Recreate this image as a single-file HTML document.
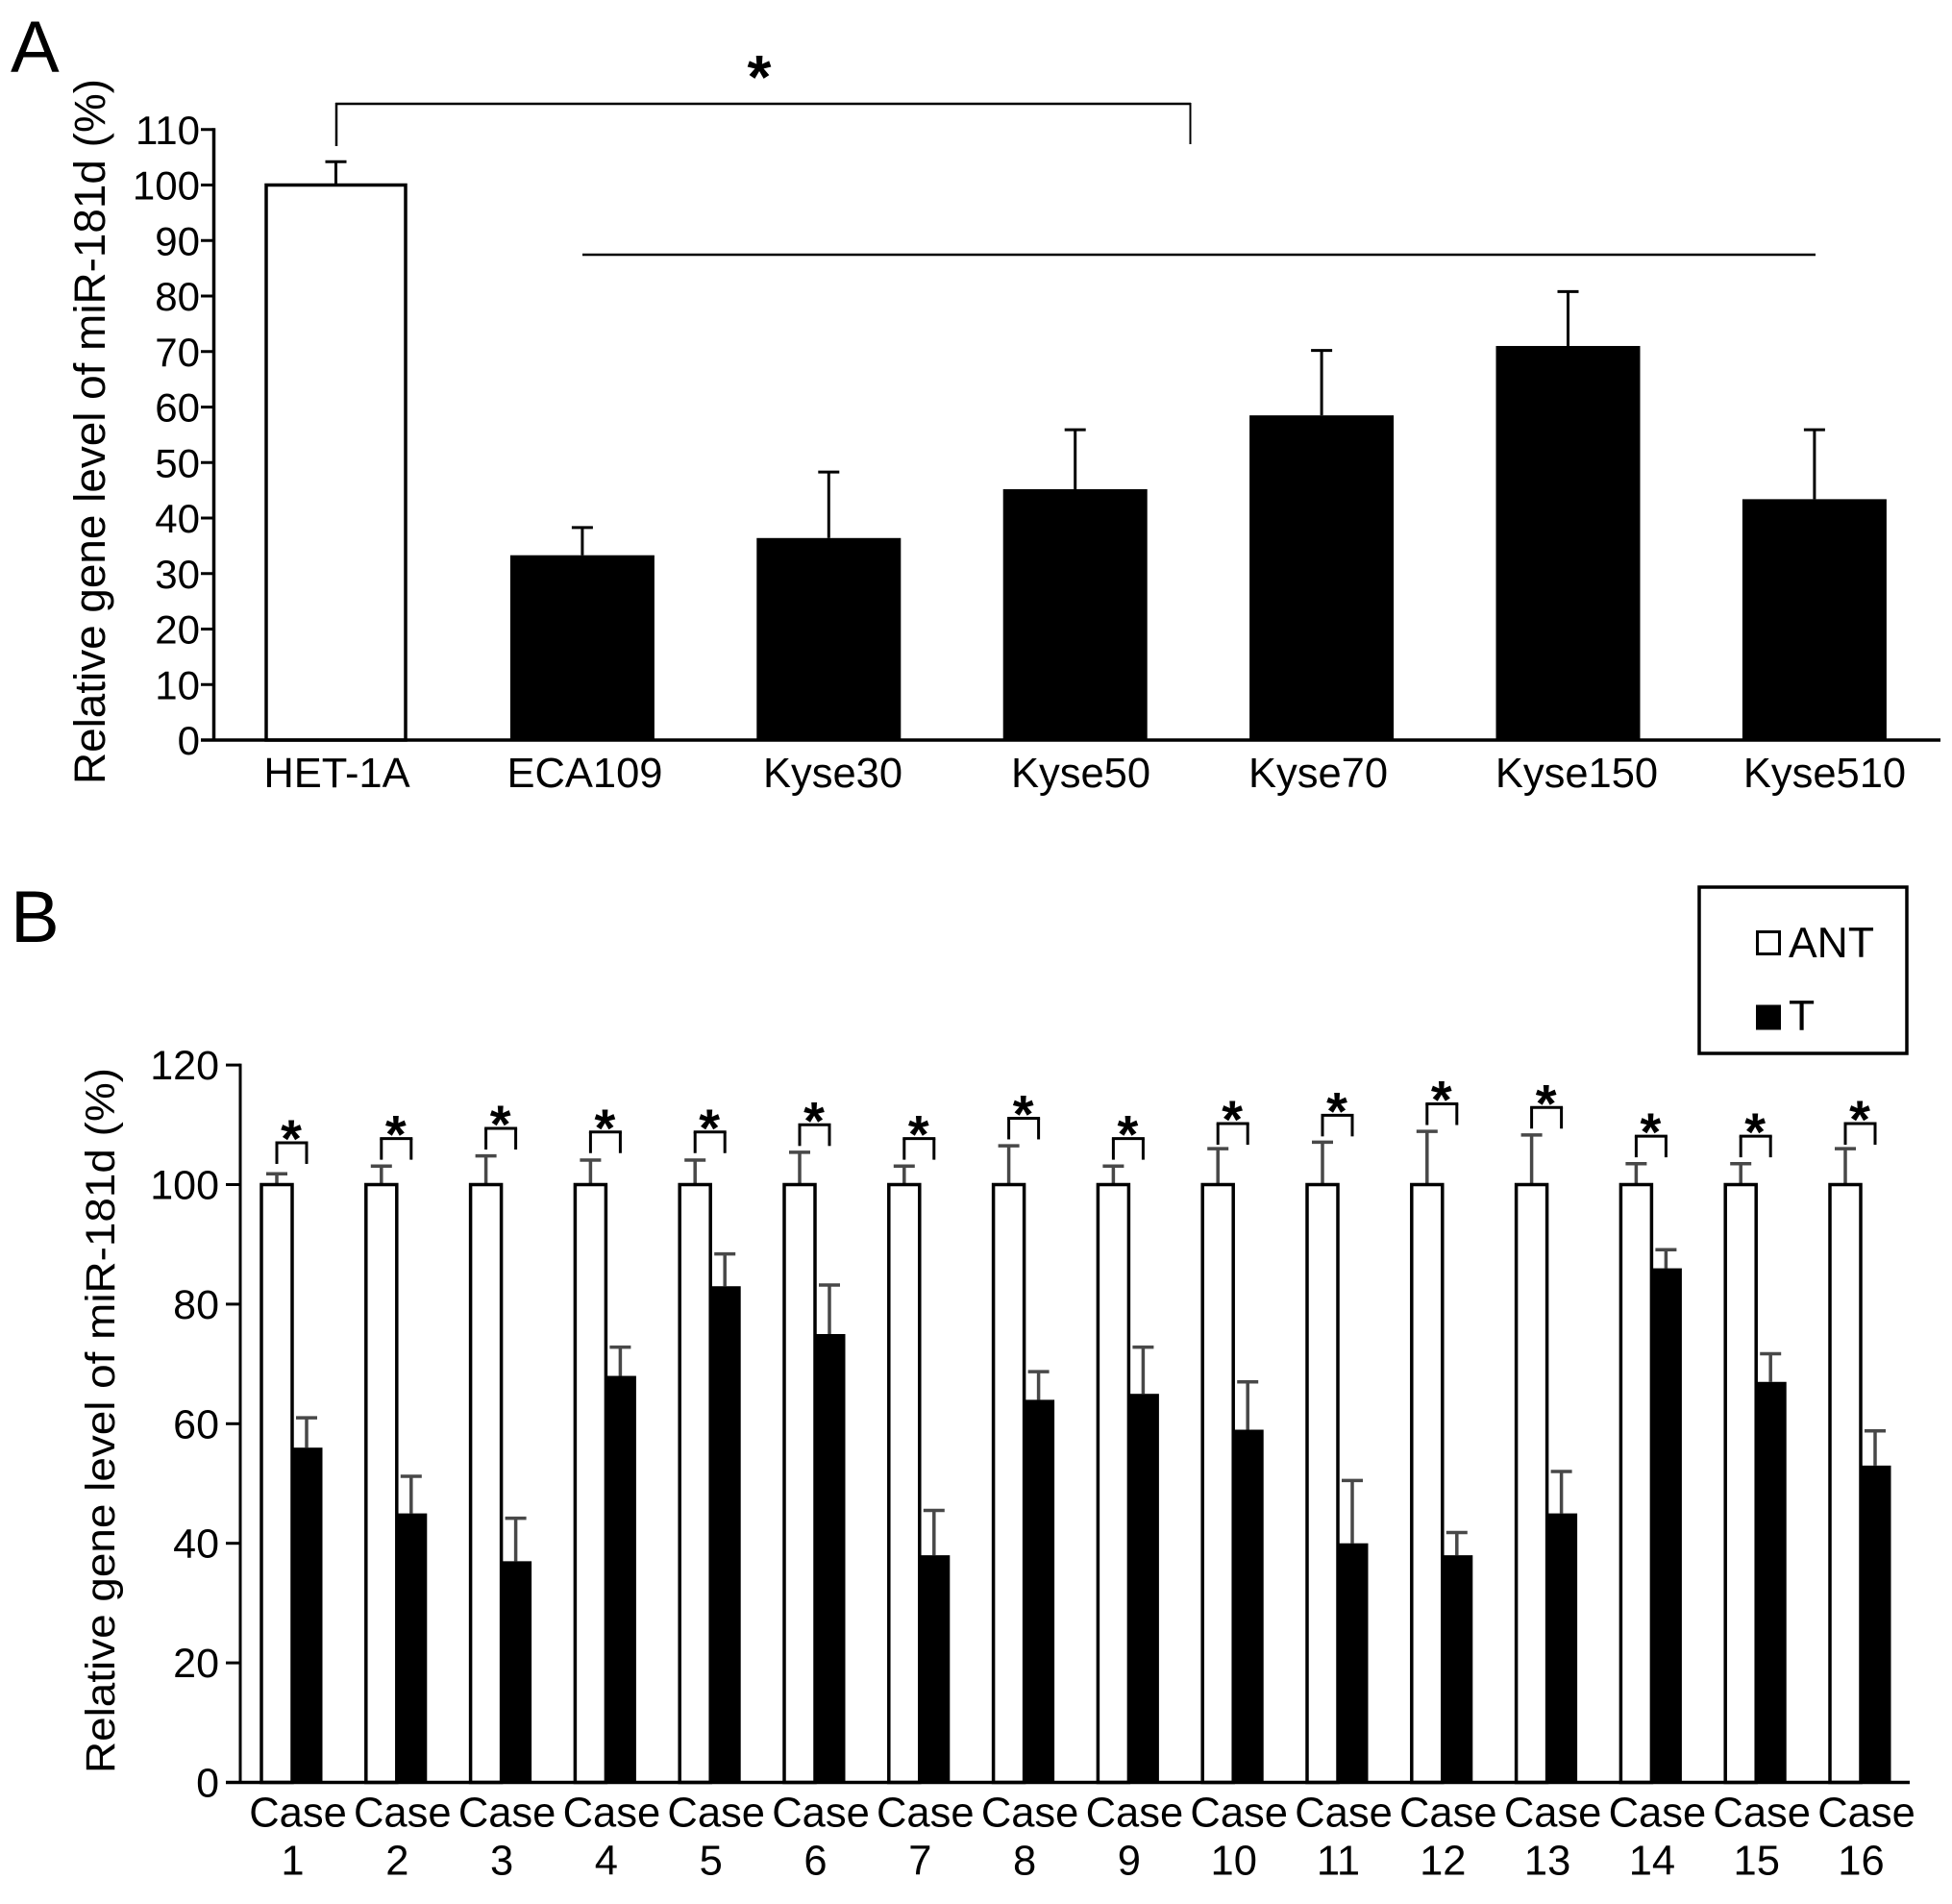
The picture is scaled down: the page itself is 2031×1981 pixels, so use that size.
<!DOCTYPE html>
<html lang="en">
<head>
<meta charset="utf-8">
<title>Relative gene level of miR-181d</title>
<style>
html,body{margin:0;padding:0;background:#fff;width:2031px;height:1981px;overflow:hidden}
svg{display:block}
text{font-family:"Liberation Sans",Arial,sans-serif;fill:#000}
</style>
</head>
<body>
<svg id="figure" xmlns="http://www.w3.org/2000/svg" width="2031" height="1981" viewBox="0 0 2031 1981">
  <rect x="0" y="0" width="2031" height="1981" fill="#fff"/>
  <text x="11" y="75" font-size="76">A</text>
  <text x="11" y="980" font-size="76">B</text>
  <g id="chart-a"></g>
  <g id="chart-b"></g>
  <g>
    <rect x="1768" y="923" width="216" height="173" fill="none" stroke="#000" stroke-width="3.5"/>
    <rect x="1828.5" y="969.5" width="23" height="23" fill="#fff" stroke="#000" stroke-width="3"/>
    <text x="1861" y="996" font-size="44.5">ANT</text>
    <rect x="1827" y="1045.5" width="26" height="26" fill="#000"/>
    <text x="1861" y="1072" font-size="44.5">T</text>
  </g>
</svg>
<script>
// Panel A data
var categoriesA = ['HET-1A', 'ECA109', 'Kyse30', 'Kyse50', 'Kyse70', 'Kyse150', 'Kyse510'];
var valuesA = [100, 33.3, 36.4, 45.2, 58.5, 71, 43.4];
var errorTopsA = [104.2, 38.3, 48.3, 55.9, 70.2, 80.8, 55.9];
var ticksA = [0, 10, 20, 30, 40, 50, 60, 70, 80, 90, 100, 110];

// Panel B data
var casesB = ['1', '2', '3', '4', '5', '6', '7', '8', '9', '10', '11', '12', '13', '14', '15', '16'];
var valuesAnt = [100, 100, 100, 100, 100, 100, 100, 100, 100, 100, 100, 100, 100, 100, 100, 100];
var errorTopsAnt = [101.8, 103.1, 104.8, 104.1, 104.1, 105.4, 103.1, 106.5, 103.1, 106, 107.1, 108.9, 108.3, 103.5, 103.5, 106];
var valuesT = [56, 45, 37, 68, 83, 75, 38, 64, 65, 59, 40, 38, 45, 86, 67, 53];
var errorTopsT = [61, 51.2, 44.2, 72.8, 88.4, 83.2, 45.5, 68.7, 72.8, 67, 50.5, 41.8, 52, 89.1, 71.7, 58.8];
var bracketTops = [107, 107.7, 109.4, 108.8, 108.8, 110, 107.7, 111.1, 107.7, 110.2, 111.6, 113.5, 112.9, 108.1, 108.1, 110.2];
var ticksB = [0, 20, 40, 60, 80, 100, 120];

var NS = 'http://www.w3.org/2000/svg';
var chartA = document.getElementById('chart-a');
var chartB = document.getElementById('chart-b');

function makeLine(parent, x1, y1, x2, y2, color, width) {
  var el = document.createElementNS(NS, 'line');
  el.setAttribute('x1', x1);
  el.setAttribute('y1', y1);
  el.setAttribute('x2', x2);
  el.setAttribute('y2', y2);
  el.setAttribute('stroke', color);
  el.setAttribute('stroke-width', width);
  parent.appendChild(el);
  return el;
}
function makeRect(parent, x, y, w, h, fill, stroke, strokeWidth) {
  var el = document.createElementNS(NS, 'rect');
  el.setAttribute('x', x);
  el.setAttribute('y', y);
  el.setAttribute('width', w);
  el.setAttribute('height', h);
  el.setAttribute('fill', fill);
  if (stroke) {
    el.setAttribute('stroke', stroke);
    el.setAttribute('stroke-width', strokeWidth);
  }
  parent.appendChild(el);
  return el;
}
function makeText(parent, x, y, str, size, anchor) {
  var el = document.createElementNS(NS, 'text');
  el.setAttribute('x', x);
  el.setAttribute('y', y);
  el.setAttribute('font-size', size);
  el.setAttribute('text-anchor', anchor);
  el.textContent = str;
  parent.appendChild(el);
  return el;
}
function makeGroup(parent) {
  var el = document.createElementNS(NS, 'g');
  parent.appendChild(el);
  return el;
}

/* ---------- Panel A ---------- */
var axisXA = 222.5;
function yA(v) { return 770 - v * 5.775; }
function xA(i) { return 349.5 + 256.4 * i; }
function labelXA(i) { return 350.5 + 258 * i + (i === 4 ? -11 : 0); }
var barWidthA = 150;

var yAxisA = makeLine(chartA, axisXA, yA(110) - 1.5, axisXA, yA(0), '#000', 3.5);



ticksA.forEach(function (t) {
  var tick = makeLine(chartA, 209, yA(t), axisXA, yA(t), '#000', 3);
  
  
  var label = makeText(chartA, 208, yA(t) + 15, String(t), 42, 'end');
  
  
});

categoriesA.forEach(function (cat, i) {
  var cx = xA(i);
  var stem = makeLine(chartA, cx, yA(valuesA[i]), cx, yA(errorTopsA[i]), '#000', 3);
  
  
  var cap = makeLine(chartA, cx - 11, yA(errorTopsA[i]), cx + 11, yA(errorTopsA[i]), '#000', 3);
  
  
  var bar;
  if (i === 0) {
    bar = makeRect(chartA, cx - 72.5, yA(valuesA[i]), 145, yA(0) - yA(valuesA[i]), '#fff', '#000', 3.5);
  } else {
    bar = makeRect(chartA, cx - barWidthA / 2, yA(valuesA[i]), barWidthA, yA(0) - yA(valuesA[i]), '#000', '', 0);
  }
  
  
  var catLabel = makeText(chartA, labelXA(i), 819, cat, 43.5, 'middle');
  
  
});

var xAxisA = makeLine(chartA, 209, yA(0), 2019, yA(0), '#000', 3.5);



var titleA = makeText(chartA, 0, 0, 'Relative gene level of miR-181d (%)', 45, 'start');
titleA.setAttribute('transform', 'translate(109 816) rotate(-90)');
titleA.setAttribute('textLength', '734');
titleA.setAttribute('lengthAdjust', 'spacingAndGlyphs');



var sigA = makeGroup(chartA);


var sigTop = makeLine(sigA, 349, 108, 1239, 108, '#000', 2.5);


var sigLeft = makeLine(sigA, 350, 107, 350, 152, '#000', 2.5);


var sigRight = makeLine(sigA, 1238.5, 107, 1238.5, 150, '#000', 2);


var sigSpan = makeLine(sigA, 606, 265, 1889, 265, '#000', 2.5);


var sigStar = makeText(sigA, 790, 102, '*', 64, 'middle');
sigStar.setAttribute('font-weight', 'bold');



/* ---------- Panel B ---------- */
var axisXB = 250;
function yB(v) { return 1854.5 - v * 6.22; }
function xB(i) { return 288 + 108.8 * i; }
var barWidthB = 32;

var yAxisB = makeLine(chartB, axisXB, yB(120) - 1.5, axisXB, yB(0), '#000', 3);



ticksB.forEach(function (t) {
  var tick = makeLine(chartB, 235, yB(t), axisXB, yB(t), '#000', 3);
  
  
  var label = makeText(chartB, 228, yB(t) + 15, String(t), 43, 'end');
  
  
});

casesB.forEach(function (c, i) {
  var cx = xB(i);
  var whiteCx = cx;
  var blackCx = cx + 31;

  var antStem = makeLine(chartB, whiteCx, yB(valuesAnt[i]), whiteCx, yB(errorTopsAnt[i]), '#484848', 3.5);
  
  
  var antCap = makeLine(chartB, whiteCx - 11, yB(errorTopsAnt[i]), whiteCx + 11, yB(errorTopsAnt[i]), '#484848', 3.5);
  
  
  var antBar = makeRect(chartB, whiteCx - barWidthB / 2, yB(valuesAnt[i]), barWidthB, yB(0) - yB(valuesAnt[i]), '#fff', '#000', 3.5);
  
  

  var tStem = makeLine(chartB, blackCx, yB(valuesT[i]), blackCx, yB(errorTopsT[i]), '#484848', 3.5);
  
  
  var tCap = makeLine(chartB, blackCx - 11, yB(errorTopsT[i]), blackCx + 11, yB(errorTopsT[i]), '#484848', 3.5);
  
  
  var tBar = makeRect(chartB, blackCx - barWidthB / 2, yB(valuesT[i]), barWidthB + 0.5, yB(0) - yB(valuesT[i]), '#000', '', 0);
  
  

  var bracketY = yB(bracketTops[i]);
  var bTop = makeLine(chartB, whiteCx - 1.5, bracketY, blackCx + 1.5, bracketY, '#000', 3);
  
  
  var bLeft = makeLine(chartB, whiteCx, bracketY, whiteCx, bracketY + 22, '#000', 3);
  
  
  var bRight = makeLine(chartB, blackCx, bracketY, blackCx, bracketY + 22, '#000', 3);
  
  
  var star = makeText(chartB, cx + 15, bracketY + 15, '*', 56, 'middle');
  star.setAttribute('font-weight', 'bold');
  
  

  var caseWord = makeText(chartB, cx + 22, 1900.5, 'Case', 43.5, 'middle');
  
  
  var caseNum = makeText(chartB, cx + 16.5, 1950.5, c, 43.5, 'middle');
  
  
});

var xAxisB = makeLine(chartB, 235, yB(0), 1987, yB(0), '#000', 3.5);



var titleB = makeText(chartB, 0, 0, 'Relative gene level of miR-181d (%)', 43, 'start');
titleB.setAttribute('transform', 'translate(119 1845) rotate(-90)');
titleB.setAttribute('textLength', '734');
titleB.setAttribute('lengthAdjust', 'spacingAndGlyphs');


</script>
</body>
</html>
